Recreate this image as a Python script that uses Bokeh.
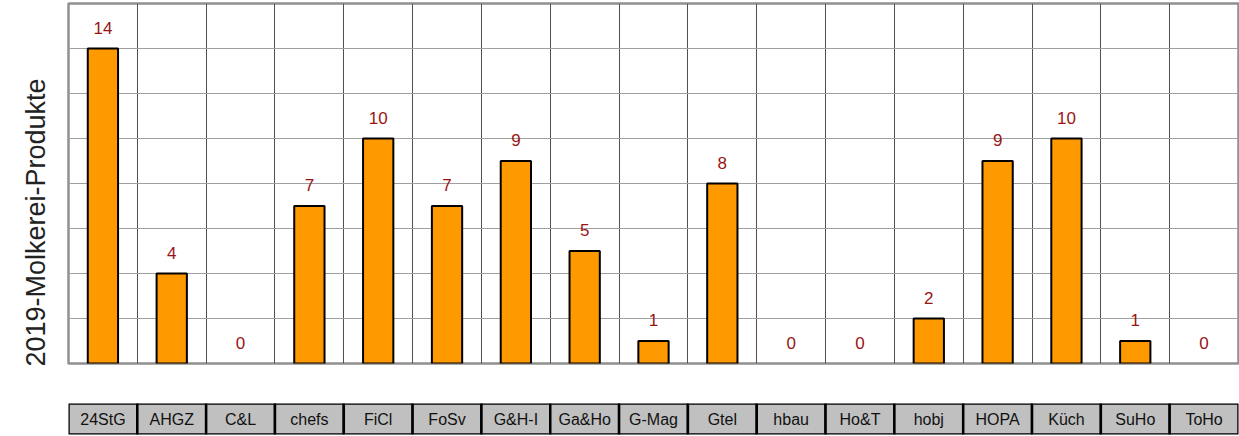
import numpy as np
from bokeh.plotting import figure
from bokeh.layouts import column
from bokeh.models import ColumnDataSource, FixedTicker, Range1d, Title
from bokeh.core.properties import value
from bokeh.embed import file_html
from bokeh.resources import INLINE

categories = ["24StG", "AHGZ", "C&L", "chefs", "FiCl", "FoSv", "G&H-I", "Ga&Ho", "G-Mag",
              "Gtel", "hbau", "Ho&T", "hobj", "HOPA", "Küch", "SuHo", "ToHo"]
counts = [14, 4, 0, 7, 10, 7, 9, 5, 1, 8, 0, 0, 2, 9, 10, 1, 0]
y_ticks = [0, 2, 4, 6, 8, 10, 12, 14, 16]
y_label = "2019-Molkerei-Produkte"

n = len(categories)
idx = np.arange(n)
src = ColumnDataSource(dict(x=idx + 0.5, left=idx, right=idx + 1.0,
                            top=counts, label=[str(c) for c in counts], cat=categories,
                            la=[1.0 if c > 0 else 0.0 for c in counts]))

FONT = "Liberation Sans"

p = figure(width=1239, height=365, x_range=Range1d(0, n), y_range=Range1d(0, 16),
           output_backend="svg", toolbar_location=None,
           min_border_left=68, min_border_right=1, min_border_top=3, min_border_bottom=2)
p.vbar(x="x", top="top", width=0.44, bottom=0, source=src,
       fill_color="#FF9900", line_color="black", line_width=2, line_alpha="la", fill_alpha="la")
p.text(x="x", y="top", text="label", source=src, text_align="center", text_baseline="middle",
       y_offset=-21, text_color="#991515", text_font=value(FONT), text_font_size="17px")

p.xaxis.visible = False
p.yaxis.visible = False
p.xgrid.ticker = FixedTicker(ticks=list(range(n + 1)))
p.xgrid.grid_line_color = "#505050"
p.xgrid.grid_line_width = 1
p.ygrid.ticker = FixedTicker(ticks=y_ticks)
p.ygrid.grid_line_color = "#a0a0a0"
p.ygrid.grid_line_width = 1
p.outline_line_color = "#909090"
p.outline_line_width = 2.5
p.background_fill_color = "white"

t = Title(text=y_label, align="left", offset=-3, standoff=35,
          text_font=FONT, text_font_style="normal", text_font_size="27px", text_color="#222222")
p.add_layout(t, "left")

q = figure(width=1239, height=34, x_range=p.x_range, y_range=Range1d(0, 1),
           output_backend="svg", toolbar_location=None,
           min_border_left=68, min_border_right=1, min_border_top=2, min_border_bottom=1)
q.quad(left="left", right="right", bottom=0, top=1, source=src,
       fill_color="#C0C0C0", line_color="black", line_width=2.5)
q.text(x="x", y=0.5, text="cat", source=src, text_align="center", text_baseline="middle",
       text_color="#111111", text_font=value(FONT), text_font_size="16px")
q.axis.visible = False
q.grid.visible = False
q.outline_line_color = None

layout = column(p, q, spacing=36)
open("out.html", "w").write(file_html(layout, INLINE))
